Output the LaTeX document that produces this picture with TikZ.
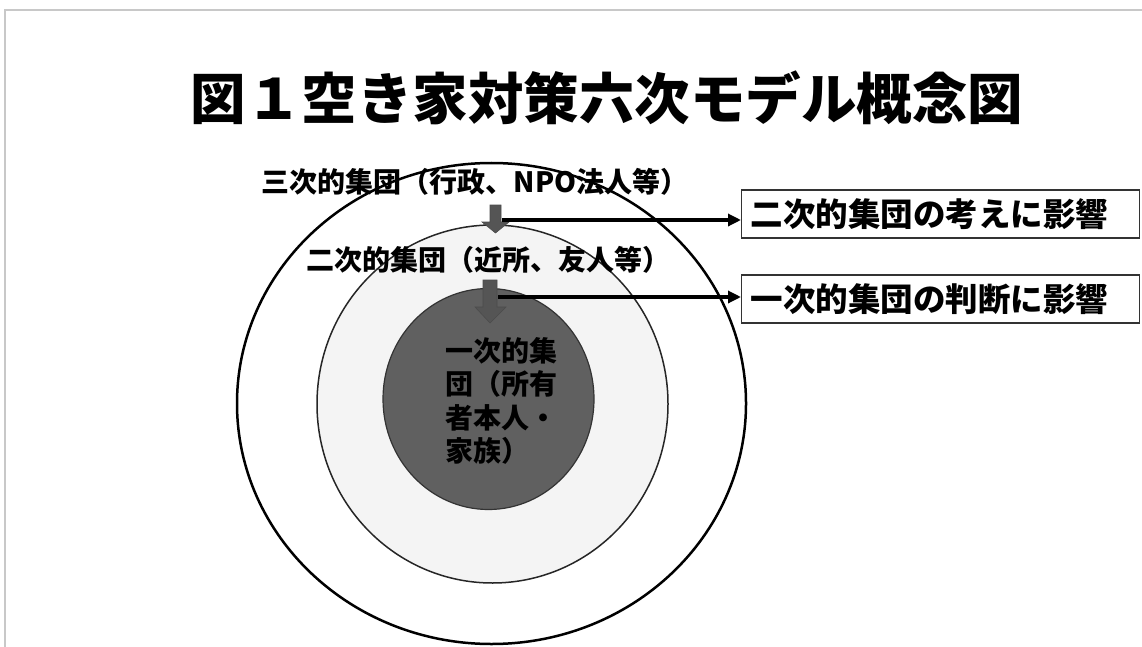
\documentclass[tikz,border=0pt]{standalone}
\usepackage{fontspec}
\setmainfont{Noto Sans CJK JP}
\usetikzlibrary{arrows.meta,shapes.geometric}
\definecolor{innerfill}{HTML}{606060}
\definecolor{midfill}{HTML}{F4F4F4}
\definecolor{arrowfill}{HTML}{555555}
\definecolor{framegray}{HTML}{C8C8C8}
\tikzset{
  ring/.style={draw, ellipse, inner sep=0pt, outer sep=0pt},
  infobox/.style={draw=black!80, line width=1.2pt, inner xsep=9pt, inner ysep=0pt,
    minimum height=48pt, text width=380pt, align=left,
    font=\fontsize{32.5}{36}\selectfont\bfseries},
  grouplabel/.style={inner sep=0pt, font=\fontsize{28}{30}\selectfont\bfseries},
  blockarrow/.style={fill=arrowfill, draw=black!70, line width=0.6pt},
  link/.style={line width=3.2pt, -{Triangle[length=13pt,width=12pt]}}
}
\begin{document}
\begin{tikzpicture}[x=1pt,y=-1pt]
\useasboundingbox (0,0) rectangle (1142,647);
% slide frame
\draw[framegray, line width=1.2pt] (5,647) -- (5,10) -- (1142,10);
% title
\node[inner sep=0pt, font=\fontsize{55.5}{60}\selectfont\bfseries] (title) at (607,98) {図１空き家対策六次モデル概念図};
% rings
\node[ring, fill=white, line width=2.5pt, minimum width=509pt, minimum height=481pt] (outer) at (491.5,403.5) {};
\node[ring, fill=midfill, draw=black!85, line width=1.5pt, minimum width=351pt, minimum height=358pt] (middle) at (492.5,404) {};
\node[ring, fill=innerfill, draw=black!80, line width=1.2pt, minimum width=211pt, minimum height=221pt] (inner) at (488.5,399) {};
% labels
\node[grouplabel] (tertiary) at (475,182) {三次的集団（行政、NPO法人等）};
\node[grouplabel] (secondary) at (488,260) {二次的集団（近所、友人等）};
\node[grouplabel, anchor=north west, align=left, font=\fontsize{28}{33.5}\selectfont\bfseries] (primary) at (445,337) {一次的集\\団（所有\\者本人・\\家族）};
% block arrows
\filldraw[blockarrow] (490,205) -- (501,205) -- (501,222) -- (509,222) -- (495.5,233) -- (482,222) -- (490,222) -- cycle;
\filldraw[blockarrow] (483,280) -- (497,280) -- (497,307) -- (506,307) -- (490,323) -- (475,307) -- (483,307) -- cycle;
% boxes
\node[infobox, anchor=west] (box1) at (741,214) {二次的集団の考えに影響};
\node[infobox, anchor=west] (box2) at (741,299) {一次的集団の判断に影響};
% connectors
\coordinate (s1) at (502,220);
\coordinate (s2) at (498,297);
\draw[link] (s1) -- (s1 -| box1.west);
\draw[link] (s2) -- (s2 -| box2.west);
\end{tikzpicture}
\end{document}
